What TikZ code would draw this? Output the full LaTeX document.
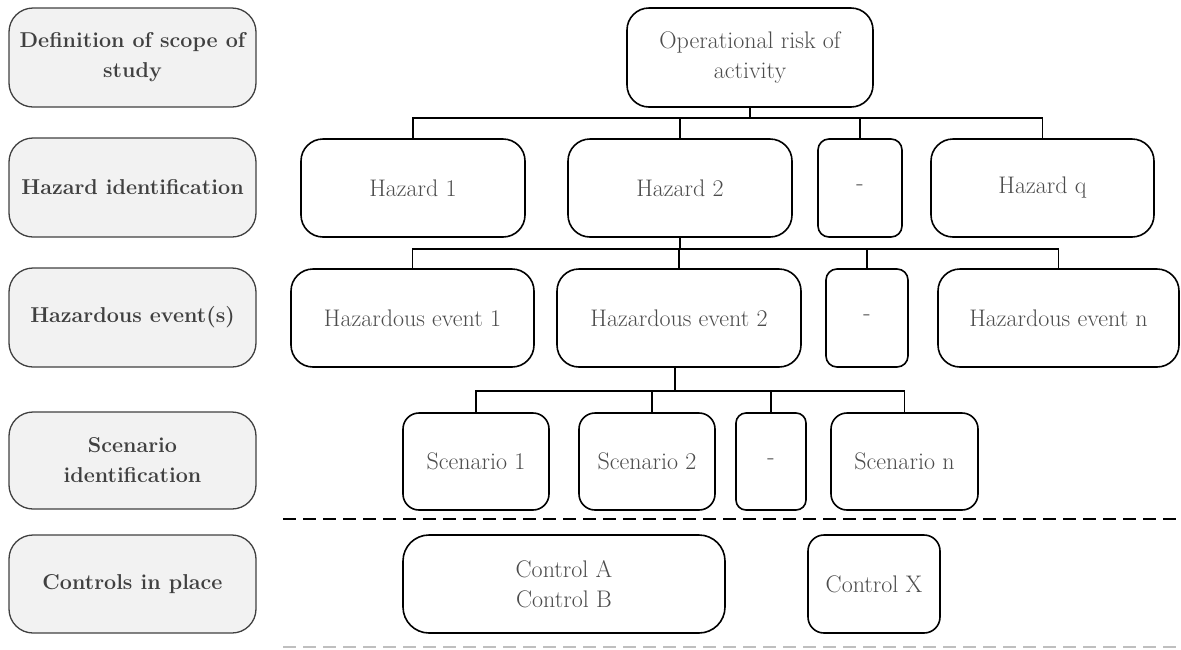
\documentclass[tikz,border=0pt]{standalone}
\usepackage{fontspec}
\begin{document}
\begin{tikzpicture}[x=1pt,y=-1pt,
  stage/.style={draw=black!75, fill=black!5, line width=1.3pt, rounded corners=24pt,
    inner sep=0pt, outer sep=0pt, align=center, text=black!75,
    font=\fontsize{21.5}{30}\selectfont\bfseries},
  item/.style={draw=black, line width=1.6pt, rounded corners=#1, inner sep=0pt,
    outer sep=0pt, align=center, text=black!70,
    font=\fontsize{24}{30}\selectfont},
  item/.default=22pt,
  link/.style={draw=black, line width=1.4pt},
  sep/.style={line width=1.6pt, dash pattern=on 13pt off 7pt}]
\useasboundingbox (0,0) rectangle (1181,649);

% stage labels on the left
\node[stage, minimum width=247pt, minimum height=99pt] (l1) at (132.5,57.5) {Definition of scope of\\study};
\node[stage, minimum width=247pt, minimum height=99pt] (l2) at (132.5,187.5) {Hazard identification};
\node[stage, minimum width=247pt, minimum height=99pt] (l3) at (132.5,317.5) {Hazardous event(s)};
\node[stage, minimum width=247pt, minimum height=97pt] (l4) at (132.5,460.5) {Scenario\\identification};
\node[stage, minimum width=247pt, minimum height=98pt] (l5) at (132.5,584) {Controls in place};

% root
\node[item, minimum width=246pt, minimum height=99pt] (top) at (750,57.5) {Operational risk of\\activity};

% hazards
\node[item, minimum width=224pt, minimum height=98pt] (h1) at (413,188) {Hazard 1};
\node[item, minimum width=224pt, minimum height=98pt] (h2) at (680,188) {Hazard 2};
\node[item=11pt, minimum width=84pt, minimum height=98pt] (hd) at (860,188) {-};
\node[item, minimum width=223pt, minimum height=98pt] (hq) at (1042.5,188) {Hazard q};

% hazardous events
\node[item, minimum width=243pt, minimum height=98pt] (e1) at (412.5,318) {Hazardous event 1};
\node[item, minimum width=244pt, minimum height=98pt] (e2) at (679,318) {Hazardous event 2};
\node[item=11pt, minimum width=82pt, minimum height=98pt] (ed) at (867,318) {-};
\node[item, minimum width=241pt, minimum height=98pt] (en) at (1058.5,318) {Hazardous event n};

% scenarios
\node[item=16pt, minimum width=146pt, minimum height=97pt] (s1) at (476,461.5) {Scenario 1};
\node[item=16pt, minimum width=136pt, minimum height=97pt] (s2) at (647,461.5) {Scenario 2};
\node[item=10pt, minimum width=70pt, minimum height=97pt] (sd) at (771,461.5) {-};
\node[item=16pt, minimum width=147pt, minimum height=97pt] (sn) at (904.5,461.5) {Scenario n};

% controls
\node[item=26pt, minimum width=322pt, minimum height=98pt] (cab) at (564,584) {Control A\\Control B};
\node[item=16pt, minimum width=132pt, minimum height=98pt] (cx) at (874,584) {Control X};

% bus levels
\coordinate (b1) at (0,118);
\coordinate (b2) at (0,249);
\coordinate (b3) at (0,391);

% root to hazards
\draw[link] (top.south) -- (top.south |- b1);
\draw[link] (h1.north) |- (hq.north |- b1) -- (hq.north);
\draw[link] (h2.north) -- (h2.north |- b1);
\draw[link] (hd.north) -- (hd.north |- b1);

% hazard 2 to hazardous events
\draw[link] (h2.south) -- (h2.south |- b2);
\draw[link] (e1.north) |- (en.north |- b2) -- (en.north);
\draw[link] (e2.north) -- (e2.north |- b2);
\draw[link] (ed.north) -- (ed.north |- b2);

% hazardous event 2 to scenarios
\draw[link, line width=2pt] ([xshift=-4pt]e2.south) -- ([xshift=-4pt]e2.south |- b3);
\draw[link] (s1.north) |- (sn.north |- b3) -- (sn.north);
\draw[link] ([xshift=5pt]s2.north) -- ([xshift=5pt]s2.north |- b3);
\draw[link] (sd.north) -- (sd.north |- b3);

% separators
\coordinate (d1a) at (283,519);
\coordinate (d1b) at (1181,519);
\coordinate (d2a) at (283,647);
\coordinate (d2b) at (1181,647);
\draw[sep, draw=black] (d1a) -- (d1b);
\draw[sep, draw=black!25] (d2a) -- (d2b);
\end{tikzpicture}
\end{document}
